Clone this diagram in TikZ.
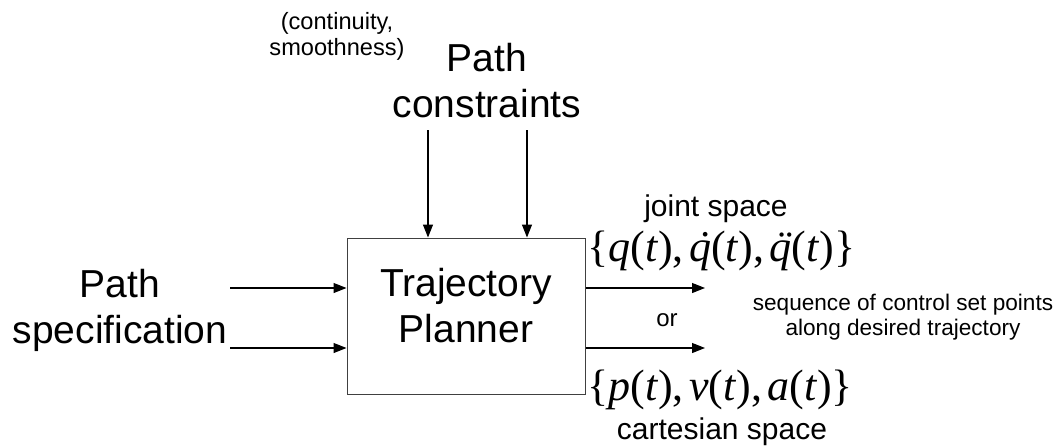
\documentclass[tikz,border=0pt]{standalone}
\usepackage{fontspec}
\setmainfont{Liberation Sans}
\newfontfamily\tnr{Liberation Serif}
\usetikzlibrary{arrows.meta}
\newcommand\myacc[2]{\ooalign{\textit{#1}\cr\hidewidth\kern0.12em\textit{#2}\hidewidth\cr}}
\newcommand\cs{,\hspace{0.12em}}
\tikzset{
  big/.style={font=\fontsize{19.5}{22}\selectfont, align=center, inner sep=0pt},
  mid/.style={font=\fontsize{11.8}{13}\selectfont, align=center, inner sep=0pt},
  lab/.style={font=\fontsize{15}{17}\selectfont, align=center, inner sep=0pt},
  small/.style={font=\fontsize{11.3}{12.6}\selectfont, align=center, inner sep=0pt},
  mth/.style={font=\tnr\fontsize{22}{24}\selectfont, inner sep=0pt, anchor=west},
  arr/.style={-{Triangle[length=6.5pt,width=5pt]}, line width=0.55pt},
  blk/.style={draw=black!75, line width=0.5pt, minimum width=119pt, minimum height=78pt, inner sep=0pt}
}
\begin{document}
\begin{tikzpicture}[x=0.5pt,y=-0.5pt]
\useasboundingbox (0,0) rectangle (1057,446);
\node[blk] (box) at (466,316) {};
\node[big] (tp) at (466,306) {Trajectory\\[1pt]Planner};
\node[big] (ps) at (120,310) {Path\\[1pt]specification};
\node[big] (pc) at (487,81) {Path\\[1pt]constraints};
\node[mid] (cs) at (337,36) {(continuity,\\smoothness)};
\node[lab] (js) at (716,209) {joint space};
\node[mth] (qm) at (587,251) {\{\textit{q}(\textit{t})\cs\myacc{q}{˙}(\textit{t})\cs\myacc{q}{¨}(\textit{t})\}};
\node[font=\fontsize{12}{14}\selectfont, inner sep=0pt] (or) at (667,320) {or};
\node[small] (sq) at (903,317) {sequence of control set points\\along desired trajectory};
\node[mth] (pm) at (587,390) {\{\textit{p}(\textit{t})\cs\textit{v}(\textit{t})\cs\textit{a}(\textit{t})\}};
\node[lab] (ca) at (722,432) {cartesian space};
\coordinate (c1) at (428,130);
\coordinate (c2) at (527,130);
\coordinate (i1) at (230,288);
\coordinate (i2) at (230,348);
\coordinate (o1) at (705,288);
\coordinate (o2) at (705,348);
\draw[arr] (c1) -- (c1 |- box.north);
\draw[arr] (c2) -- (c2 |- box.north);
\draw[arr] (i1) -- (i1 -| box.west);
\draw[arr] (i2) -- (i2 -| box.west);
\draw[arr] (o1 -| box.east) -- (o1);
\draw[arr] (o2 -| box.east) -- (o2);
\end{tikzpicture}
\end{document}
